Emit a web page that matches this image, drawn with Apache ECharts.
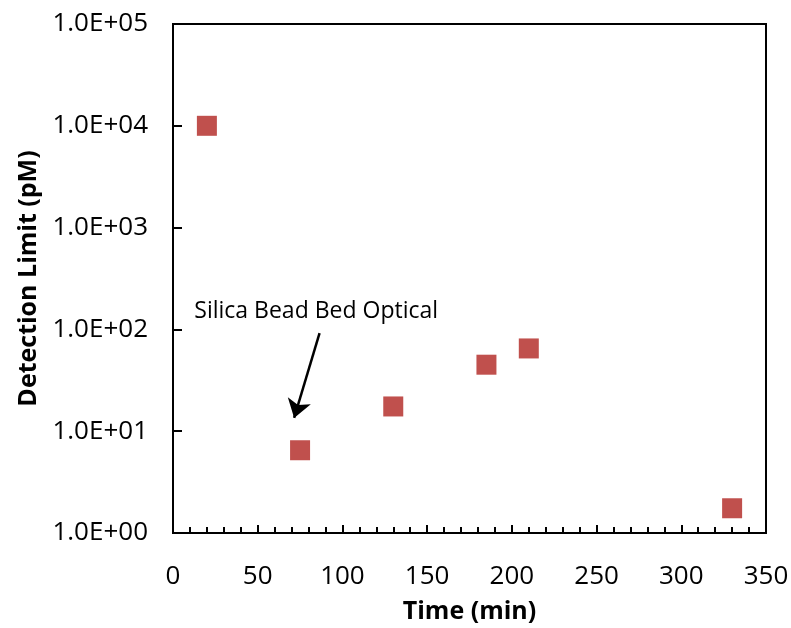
<!DOCTYPE html>
<html><head><meta charset="utf-8">
<script src="https://cdn.jsdelivr.net/npm/echarts@6/dist/echarts.min.js"></script>
<style>html,body{margin:0;padding:0;background:#fff}#c{width:791px;height:628px}</style>
</head><body><div id="c"></div>
<script>
var timeMin = [20, 75, 130, 185, 210, 330];
var detectionLimit = [10000, 6.5, 17.5, 45, 65, 1.75];
var xTicks = [0, 50, 100, 150, 200, 250, 300, 350];
var yTickLabels = ['1.0E+00','1.0E+01','1.0E+02','1.0E+03','1.0E+04','1.0E+05'];
var annotationText = 'Silica Bead Bed Optical';
var arrowFrom = [86.5, 92];
var arrowTo = [71.5, 13.5];
var textAt = [84.5, 150];

var FONT = 'Open Sans';
var chart = echarts.init(document.getElementById('c'), null, {renderer:'canvas'});
chart.setOption({
  animation:false,
  grid:{left:173, top:24, right:25, bottom:95, containLabel:false, outerBoundsMode:'none',
        show:true, borderColor:'#000', borderWidth:2, backgroundColor:'transparent'},
  xAxis:{
    type:'value', min:xTicks[0], max:xTicks[xTicks.length-1], interval:50,
    name:'Time (min)', nameLocation:'middle', nameGap:66,
    nameTextStyle:{fontFamily:FONT, fontWeight:'bold', fontSize:25, color:'#000'},
    axisLine:{lineStyle:{color:'#000', width:2}},
    axisTick:{inside:true, length:8, lineStyle:{color:'#000', width:2}},
    minorTick:{show:true, splitNumber:5, length:6, lineStyle:{color:'#000', width:2}},
    splitLine:{show:false},
    axisLabel:{fontFamily:FONT, fontSize:26, color:'#000', margin:31}
  },
  yAxis:{
    type:'log', logBase:10, min:1, max:100000,
    name:'Detection Limit (pM)', nameLocation:'middle', nameGap:132, nameRotate:90,
    nameTextStyle:{fontFamily:FONT, fontWeight:'bold', fontSize:25, color:'#000'},
    axisLine:{lineStyle:{color:'#000', width:2}},
    axisTick:{inside:true, length:9, lineStyle:{color:'#000', width:2}},
    splitLine:{show:false},
    axisLabel:{fontFamily:FONT, fontSize:26, color:'#000', margin:25,
      formatter:function(v){ var i=Math.round(Math.log10(v)); return yTickLabels[i]; }}
  },
  series:[{
    type:'scatter', symbol:'rect', symbolSize:20,
    itemStyle:{color:'#C0504D', opacity:1},
    data: timeMin.map(function(t,i){return [t, detectionLimit[i]];}),
    markLine:{
      silent:true, symbol:['none','arrow'], symbolSize:18,
      lineStyle:{color:'#000', width:2.5, type:'solid', opacity:1},
      label:{show:false},
      data:[[{coord:arrowFrom},{coord:arrowTo}]]
    },
    markPoint:{
      silent:true, symbol:'rect', symbolSize:0,
      label:{show:true, formatter:annotationText, fontFamily:FONT, fontSize:23, color:'#000', position:'inside'},
      data:[{coord:textAt}]
    }
  }]
});
</script></body></html>
